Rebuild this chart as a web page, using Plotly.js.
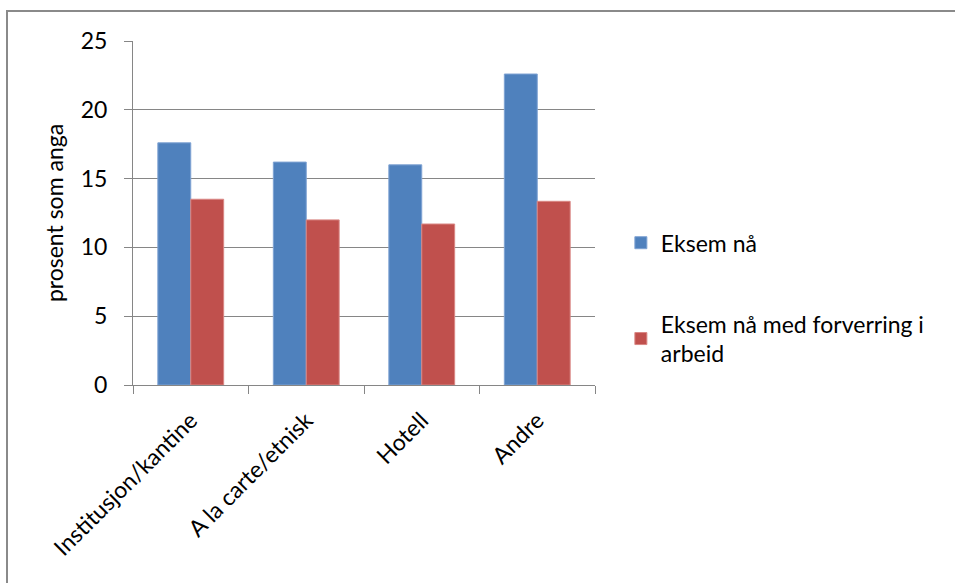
<!DOCTYPE html>
<html>
<head>
<meta charset="utf-8">
<script src="https://cdn.plot.ly/plotly-3.0.1.min.js"></script>
<style>
html,body{margin:0;padding:0;background:#fff;overflow:hidden;}
#chart{position:absolute;left:0;top:0;width:955px;height:583px;}
#frame{position:absolute;left:6px;top:10px;width:960px;height:600px;border:2px solid #8a8a8a;box-sizing:border-box;pointer-events:none;}
</style>
</head>
<body>
<div id="chart"></div>
<div id="frame"></div>
<script>
const categories = ["Institusjon/kantine", "A la carte/etnisk", "Hotell", "Andre"];
const eksemNa = [17.6, 16.2, 16.0, 22.6];
const eksemForverring = [13.5, 12.0, 11.7, 13.35];
const seriesNames = ["Eksem nå", "Eksem nå med forverring i<br>arbeid"];
const yTitle = "prosent som anga";

const font = "Lato, 'Open Sans', sans-serif";
const fs = 23;

const traces = [
  {type:"bar", x:categories, y:eksemNa, name:seriesNames[0], legendgroup:"a",
   marker:{color:"#4F81BD", line:{color:"#7FA3D3", width:1}}},
  {type:"bar", x:categories, y:eksemForverring, name:seriesNames[1], legendgroup:"b",
   marker:{color:"#C0504D", line:{color:"#D98784", width:1}}}
];

const layout = {
  width:955, height:583,
  margin:{l:133, r:360, t:41, b:198},
  paper_bgcolor:"#fff", plot_bgcolor:"#fff",
  font:{family:font, size:fs, color:"#000"},
  barmode:"group", bargap:0.43, bargroupgap:0,
  showlegend:true,
  legend:{x:1.056, xanchor:"left", y:0.476, yanchor:"top", traceorder:"grouped",
          tracegroupgap:48, font:{family:font, size:fs, color:"#000"}, bgcolor:"rgba(0,0,0,0)"},
  xaxis:{type:"category", tickangle:-45, showline:true, linecolor:"#868686", linewidth:1,
         ticks:"outside", tickson:"boundaries", ticklen:8, tickcolor:"#868686",
         ticklabelstandoff:12,
         showgrid:false, tickfont:{family:font, size:fs, color:"#000"}, fixedrange:true, automargin:false},
  yaxis:{range:[0,25], dtick:5, showline:true, linecolor:"#868686", linewidth:1,
         ticks:"outside", ticklen:8, tickcolor:"#868686", showgrid:true, gridcolor:"#868686", gridwidth:1,
         zeroline:false, ticklabelstandoff:12, automargin:false,
         tickfont:{family:font, size:fs, color:"#000"},
         title:{text:yTitle, font:{family:font, size:fs, color:"#000"}, standoff:10}}
};

Plotly.newPlot("chart", traces, layout, {displayModeBar:false, staticPlot:true});
</script>
</body>
</html>
